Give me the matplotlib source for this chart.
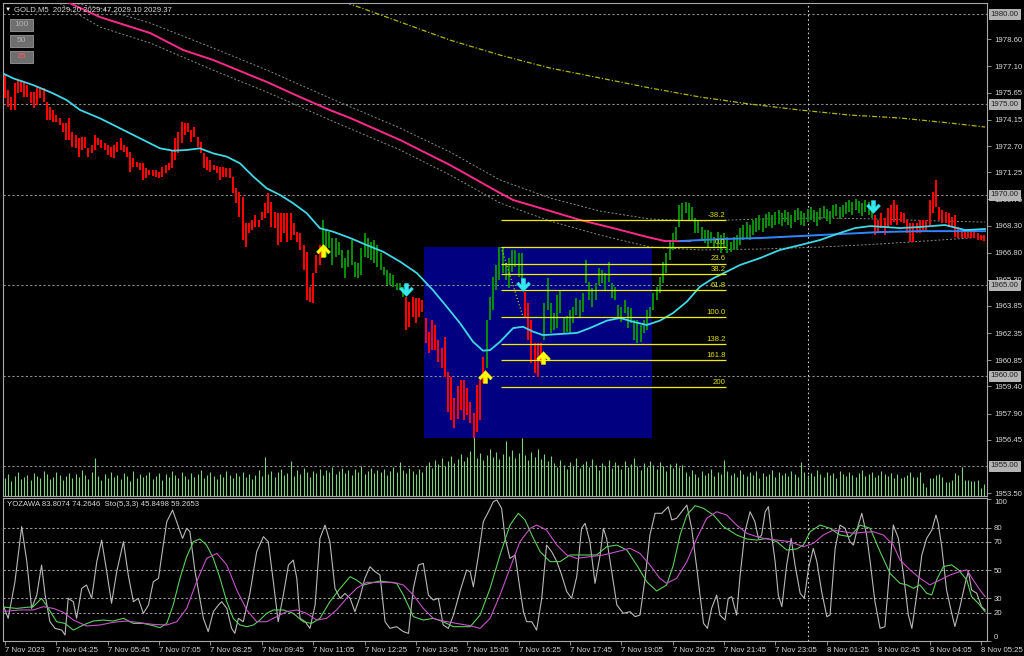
import matplotlib
matplotlib.use('Agg')
import matplotlib.pyplot as plt
from matplotlib.path import Path
from matplotlib.patches import Rectangle
from matplotlib.transforms import blended_transform_factory

plt.rcParams['font.family'] = ['Liberation Sans', 'DejaVu Sans']

# ---------------- data ----------------
# price bars as (high, low), grouped by the trend colour of the bar
DOWN_1 = [
    (1976.63, 1975.34), (1975.80, 1974.88), (1975.43, 1974.69), (1976.17, 1974.69), (1976.35, 1975.62),
    (1976.35, 1975.71), (1976.26, 1975.43), (1976.08, 1975.43), (1975.71, 1975.06), (1975.71, 1974.79),
    (1975.99, 1974.97), (1975.99, 1975.34), (1975.89, 1975.15), (1975.15, 1974.14), (1974.88, 1974.14),
    (1974.69, 1974.05), (1974.42, 1974.05), (1974.23, 1973.86), (1973.96, 1973.50), (1973.96, 1973.03),
    (1974.23, 1973.03), (1973.50, 1972.67), (1973.31, 1972.57), (1973.13, 1972.11), (1973.22, 1972.48),
    (1973.22, 1972.57), (1972.57, 1972.11), (1972.76, 1972.30), (1973.31, 1972.48), (1973.13, 1972.76),
    (1973.03, 1972.57), (1972.85, 1972.48), (1972.76, 1972.20), (1972.67, 1972.11), (1972.76, 1972.02),
    (1972.94, 1972.39), (1973.13, 1972.48), (1972.76, 1972.39), (1972.67, 1972.11), (1972.39, 1971.28),
    (1972.02, 1971.56), (1971.84, 1971.56), (1971.74, 1971.37), (1971.74, 1970.82), (1971.47, 1970.91),
    (1971.37, 1971.10), (1971.40, 1971.05), (1971.37, 1971.01), (1971.28, 1970.91), (1971.56, 1971.01),
    (1971.65, 1971.19), (1971.74, 1971.37), (1972.48, 1971.47), (1973.13, 1971.93), (1973.50, 1972.30),
    (1974.05, 1972.85), (1973.96, 1973.31), (1973.96, 1973.50), (1973.59, 1972.94), (1973.77, 1973.22),
    (1973.22, 1972.67), (1972.94, 1972.30), (1972.30, 1971.47), (1972.11, 1971.37), (1971.93, 1971.28),
    (1971.65, 1971.37), (1971.60, 1971.20), (1971.56, 1970.82), (1971.56, 1971.01), (1971.47, 1971.01),
    (1971.47, 1970.91), (1971.01, 1970.08), (1970.36, 1969.53), (1970.18, 1968.79), (1969.90, 1967.50),
    (1968.42, 1967.13), (1968.42, 1967.87), (1968.61, 1968.06), (1968.88, 1968.24), (1968.61, 1968.24),
    (1969.07, 1968.61), (1969.53, 1968.70), (1970.08, 1968.98), (1969.62, 1968.24), (1969.07, 1968.15),
    (1968.98, 1967.23), (1968.98, 1967.41), (1968.98, 1967.87), (1968.98, 1967.41), (1968.98, 1967.50),
    (1968.42, 1967.78), (1967.96, 1967.41), (1967.87, 1966.95), (1967.23, 1965.84), (1966.86, 1964.18),
    (1964.92, 1964.09), (1965.66, 1964.00), (1966.67, 1965.66), (1967.23, 1966.12),
]
UP_1 = [
    (1968.60, 1966.78), (1968.05, 1966.56), (1967.94, 1967.06), (1967.61, 1966.12), (1967.61, 1966.56),
    (1967.39, 1966.67), (1966.95, 1965.95), (1966.50, 1965.40), (1966.95, 1966.01), (1967.50, 1966.12),
    (1966.28, 1965.45), (1966.23, 1965.40), (1967.06, 1965.56), (1967.89, 1966.56), (1967.61, 1966.50),
    (1967.39, 1966.39), (1967.50, 1966.23), (1967.22, 1966.01), (1966.78, 1965.84), (1966.01, 1965.56),
    (1965.84, 1965.01), (1965.70, 1965.00), (1965.56, 1964.90), (1965.12, 1964.73), (1965.12, 1964.73),
    (1964.90, 1964.35),
]
DOWN_2 = [
    (1964.35, 1962.52), (1964.07, 1962.69), (1964.35, 1963.24), (1964.29, 1962.91), (1964.29, 1963.24),
    (1964.18, 1963.52), (1963.19, 1961.80), (1962.41, 1961.25), (1963.08, 1961.42), (1962.80, 1961.42),
    (1961.97, 1960.75), (1961.52, 1960.42), (1962.13, 1959.92), (1960.20, 1957.99), (1959.92, 1957.54),
    (1958.76, 1957.10), (1959.40, 1957.60), (1959.76, 1958.10), (1959.76, 1957.54), (1959.31, 1957.82),
    (1958.54, 1957.37), (1957.93, 1956.55), (1959.48, 1956.88), (1959.76, 1957.54), (1961.03, 1959.59),
]
UP_2 = [
    (1963.08, 1960.42), (1964.35, 1963.08), (1965.45, 1963.63), (1966.12, 1964.73), (1967.11, 1965.29),
    (1967.11, 1965.67), (1966.23, 1965.29), (1966.50, 1964.85), (1966.95, 1965.73), (1966.95, 1966.01),
    (1966.78, 1965.45), (1966.78, 1964.85),
]
DOWN_3 = [
    (1964.62, 1963.24), (1964.01, 1961.97), (1963.08, 1960.70), (1961.80, 1960.14), (1961.80, 1959.92),
    (1961.80, 1960.70),
]
UP_3 = [
    (1964.01, 1961.97), (1965.40, 1963.63), (1964.01, 1962.35), (1963.46, 1962.52), (1964.46, 1962.63),
    (1964.73, 1963.46), (1963.19, 1962.35), (1963.30, 1962.40), (1963.63, 1962.35), (1963.79, 1962.91),
    (1964.29, 1963.35), (1964.18, 1963.19), (1964.57, 1963.52), (1966.39, 1965.12), (1965.18, 1964.18),
    (1964.84, 1963.79), (1965.12, 1964.18), (1965.95, 1965.01), (1965.84, 1965.12), (1965.67, 1964.73),
    (1966.28, 1965.18), (1965.12, 1964.29), (1964.90, 1964.18), (1963.90, 1963.24), (1963.79, 1962.97),
    (1964.18, 1963.46), (1963.79, 1962.63), (1963.74, 1962.91), (1963.08, 1961.97), (1963.08, 1961.80),
    (1962.80, 1961.86), (1963.08, 1962.35), (1963.63, 1962.52), (1963.79, 1963.19), (1964.57, 1963.63),
    (1964.90, 1964.18), (1965.45, 1964.57), (1966.28, 1965.12), (1966.78, 1965.67), (1967.50, 1966.39),
    (1967.89, 1966.95), (1968.22, 1967.50), (1969.44, 1968.22), (1969.55, 1968.61), (1969.60, 1968.99),
    (1969.55, 1968.61), (1969.33, 1968.61), (1968.72, 1967.89), (1968.61, 1967.89), (1968.22, 1967.50),
    (1968.05, 1967.33), (1968.05, 1967.06), (1967.94, 1967.33), (1967.67, 1967.11), (1967.94, 1967.11),
    (1967.77, 1966.78), (1967.89, 1967.11), (1967.67, 1966.78), (1967.39, 1966.84), (1967.67, 1966.95),
    (1967.80, 1967.00),
    (1968.16, 1967.22), (1968.33, 1967.50), (1968.50, 1967.61), (1968.33, 1967.50), (1968.61, 1967.77),
    (1968.72, 1967.94), (1968.88, 1968.05), (1968.72, 1967.94), (1968.94, 1968.16), (1969.05, 1968.27),
    (1968.88, 1968.16), (1969.05, 1968.33), (1969.16, 1968.39), (1968.99, 1968.27), (1969.16, 1968.50),
    (1969.05, 1968.33), (1968.88, 1968.16), (1969.16, 1968.50), (1969.27, 1968.61), (1969.10, 1968.33),
    (1968.99, 1968.27), (1969.21, 1968.50), (1969.32, 1968.61), (1969.16, 1968.50), (1969.05, 1968.27),
    (1969.27, 1968.61), (1969.38, 1968.72), (1969.21, 1968.55), (1969.10, 1968.39), (1969.44, 1968.72),
    (1969.49, 1968.83), (1969.32, 1968.66), (1969.44, 1968.77), (1969.60, 1968.94), (1969.71, 1969.05),
    (1969.60, 1968.88), (1969.77, 1969.16), (1969.66, 1968.99), (1969.55, 1968.83), (1969.71, 1969.05),
    (1969.60, 1968.88), (1969.44, 1968.72),
]
DOWN_4 = [
    (1968.88, 1967.77), (1968.61, 1967.94), (1968.99, 1968.16), (1968.72, 1967.77), (1969.27, 1968.16),
    (1969.44, 1968.33), (1969.71, 1968.50), (1969.44, 1968.33),
    (1969.05, 1968.50), (1968.99, 1968.44), (1968.61, 1967.89), (1968.44, 1967.39), (1968.44, 1967.39),
    (1968.44, 1967.89), (1968.61, 1967.89), (1968.61, 1968.05), (1968.61, 1967.94), (1969.71, 1968.33),
    (1970.15, 1968.99), (1970.82, 1969.32), (1969.32, 1968.61), (1969.16, 1968.44), (1969.05, 1968.44),
    (1968.99, 1968.22), (1968.77, 1968.22), (1968.88, 1967.66), (1968.22, 1967.61), (1968.05, 1967.61),
    (1968.05, 1967.61), (1968.05, 1967.61), (1968.05, 1967.61), (1968.05, 1967.61), (1967.89, 1967.50),
    (1967.77, 1967.50), (1967.77, 1967.44),
]
SEGMENTS = [('down', DOWN_1), ('up', UP_1), ('down', DOWN_2), ('up', UP_2),
            ('down', DOWN_3), ('up', UP_3), ('down', DOWN_4)]

# tick volume per bar
VOLUME = [
    18, 22, 15, 20, 24, 17, 19, 21, 16, 23, 20, 18, 25, 22, 17, 19, 24, 21, 16, 20, 23, 18, 22, 19, 26, 21, 17, 24, 38,
    20, 16, 22, 18, 24, 19, 21, 17, 23, 20, 15, 25, 18, 22, 19, 21, 24, 17, 20, 23, 16, 22, 19, 25, 21, 18, 24, 20, 17,
    23, 19, 22, 26, 18, 21, 24, 20, 17, 22, 19, 25, 21, 18, 23, 20, 24, 19, 22, 17, 21, 26, 20,
    39, 22, 25, 19, 24, 27, 21, 23, 35, 20, 26, 22, 28, 24, 19, 25, 23, 27, 21, 26, 24, 29, 22, 25, 28, 23, 26, 21, 27,
    24, 30, 22, 25, 28, 23, 26, 24, 27, 21, 25, 29, 24, 34, 26, 23, 28, 25, 22, 27, 24,
    30, 34, 28, 36, 32, 38, 30, 35, 40, 33, 37, 42, 35, 39, 45, 60, 38, 43, 36, 41, 47, 39, 44, 37, 42, 55, 40, 46, 38,
    43, 58, 41, 36, 44, 39, 47, 37, 42, 35, 40,
    33, 29, 36, 31, 27, 34, 30, 38, 28, 32, 35, 29, 37, 31, 26, 33, 30, 36, 28, 34, 31, 27, 35, 29, 32, 38, 30, 26, 33,
    29, 35, 31, 27, 34, 30, 25, 32, 28, 33, 29, 31,
    24, 20, 26, 22, 19, 25, 21, 23, 27, 20, 24, 22, 36, 25, 21, 23, 19, 26, 22, 20, 24, 21, 25, 18, 23, 20, 22, 26, 19,
    24, 21, 23, 20, 25, 22, 19, 34, 24, 21, 23, 20, 26, 22, 19, 24, 21, 23, 18, 25, 22, 20, 24, 21, 19, 23, 26, 20, 22,
    24, 19, 21, 25, 22, 20, 23, 18, 22,
    18, 19, 21, 24, 19, 19, 24, 13, 9, 18, 18, 21, 22, 19, 14, 14, 16, 23, 21, 29, 16, 16, 15, 15, 16, 8, 12,
]

# moving averages as (bar, price)
FAST_MA = [(-0.7, 1976.72), (2.6, 1976.44), (8.8, 1976.07), (15.0, 1975.61), (19.2, 1975.24), (23.4, 1974.69),
           (29.6, 1974.23), (35.8, 1973.68), (42.1, 1973.12), (48.3, 1972.57), (52.4, 1972.44), (56.6, 1972.48),
           (60.7, 1972.57), (64.9, 1972.29), (69.1, 1972.11), (73.2, 1971.74), (77.4, 1971.00), (81.5, 1970.36),
           (85.7, 1969.99), (89.8, 1969.53), (94.0, 1968.98), (98.1, 1968.15), (102.2, 1967.96), (107.5, 1967.61),
           (112.7, 1967.22), (117.8, 1966.85), (123.1, 1966.30), (128.3, 1965.67), (133.3, 1964.73), (137.6, 1963.81),
           (141.7, 1962.91), (145.8, 1961.87), (148.9, 1961.38), (151.1, 1961.41), (154.2, 1961.87), (158.3, 1962.63),
           (161.4, 1962.70), (164.5, 1962.43), (167.6, 1962.24), (172.9, 1962.30), (178.2, 1962.36), (182.2, 1962.63),
           (187.5, 1963.04), (191.6, 1963.19), (195.6, 1962.98), (199.9, 1962.80), (204.0, 1963.04), (208.1, 1963.46),
           (212.4, 1964.09), (216.5, 1964.92), (220.6, 1965.38), (224.8, 1965.75), (229.0, 1966.12), (235.2, 1966.50),
           (241.4, 1966.95), (247.7, 1967.22), (253.9, 1967.50), (260.1, 1967.89), (264.8, 1968.16), (269.5, 1968.27),
           (274.1, 1968.22), (278.8, 1968.16), (285.0, 1968.22), (292.8, 1968.33), (299.1, 1968.05), (305.3, 1968.11)]
SLOW_MA = [(14.0, 1981.05), (18.1, 1980.77), (29.6, 1979.83), (45.2, 1978.95), (55.5, 1978.01), (64.8, 1977.46),
           (81.6, 1976.24), (91.9, 1975.41), (101.2, 1974.69), (107.5, 1974.25), (123.1, 1973.03), (138.6, 1971.65),
           (154.2, 1970.10), (158.3, 1969.71), (168.8, 1969.16), (179.1, 1968.61), (189.4, 1968.16), (200.0, 1967.67),
           (205.6, 1967.44), (213.4, 1967.44)]
SLOW_MA_UP = [(210.3, 1967.44), (222.7, 1967.55), (235.2, 1967.61), (247.7, 1967.72), (260.1, 1967.83),
              (272.6, 1967.94), (285.0, 1967.99), (297.5, 1967.99), (305.3, 1967.99)]
ENV_UPPER = [(10.9, 1980.94), (29.6, 1980.33), (45.2, 1979.50), (64.8, 1978.12), (81.6, 1976.90), (101.2, 1975.35),
             (123.1, 1973.69), (138.6, 1972.37), (154.2, 1970.82), (169.8, 1969.82), (185.4, 1969.10), (200.9, 1968.66),
             (216.5, 1968.55), (235.2, 1968.66), (253.9, 1968.72), (272.6, 1968.66), (291.3, 1968.55), (305.3, 1968.49)]
ENV_LOWER = [(15.0, 1980.80), (29.6, 1979.28), (45.2, 1978.40), (64.8, 1976.90), (81.6, 1975.68), (101.2, 1974.14),
             (123.1, 1972.48), (138.6, 1971.10), (154.2, 1969.55), (169.8, 1968.55), (185.4, 1967.77), (200.9, 1967.11),
             (216.5, 1966.95), (235.2, 1967.00), (253.9, 1967.11), (272.6, 1967.28), (291.3, 1967.50), (305.3, 1967.67)]
LONG_MA = [(101.2, 1980.99), (105.9, 1980.66), (123.1, 1979.56), (138.6, 1978.56), (154.2, 1977.73), (169.8, 1977.01),
           (185.4, 1976.46), (200.9, 1975.91), (216.5, 1975.41), (232.1, 1975.02), (247.7, 1974.69), (263.2, 1974.41),
           (278.8, 1974.25), (294.4, 1973.97), (305.3, 1973.75)]

# signal arrows (bar, price)
BUY_SIGNALS = [(99.0, 1966.95), (149.5, 1960.00), (167.6, 1961.02)]
SELL_SIGNALS = [(125.0, 1964.73), (161.4, 1965.00), (270.4, 1969.32)]

# box and fibonacci retracement
BOX_BARS = (130.5, 201.6)
BOX_PRICES = (1956.55, 1967.11)
FIB_BARS = (154.5, 224.5)
FIB_ANCHORS = (1967.11, 1963.24)
FIB_LEVELS = [-38.2, 0.0, 23.6, 38.2, 61.8, 100.0, 138.2, 161.8, 200.0]
FIB_TEXT = ['-38.2', '0.0', '23.6', '38.2', '61.8', '100.0', '138.2', '161.8', '200']

# oscillator window (bar, value)
YOZAWA = [(-1.0, 27.7), (1.0, 16), (3.1, 41.8), (5.2, 80.7), (6.8, 56), (8.3, 23), (9.9, 32.4), (11.4, 53.6),
          (12.5, 32.4), (14.0, 13.6), (15.6, 8.9), (17.7, 7.7), (18.7, 4.2), (19.7, 30.1), (21.3, 27.7), (22.3, 16),
          (23.9, 37.1), (25.4, 39.5), (27.0, 30.1), (28.6, 56), (30.1, 71.2), (31.7, 48.9), (33.2, 26.6), (34.8, 48.9),
          (36.9, 70.1), (38.4, 46.6), (40.0, 27.7), (41.5, 30.1), (43.1, 19.5), (44.7, 25.4), (46.2, 41.8),
          (47.8, 44.2), (49.3, 67.7), (50.4, 84.2), (52.2, 92.4), (54.0, 80.7), (55.3, 72.4), (56.6, 79.5),
          (57.6, 77.1), (59.2, 48.9), (60.7, 30.1), (61.8, 16), (63.3, 6.6), (64.9, 20.7), (66.5, 25.4), (67.5, 27.7),
          (69.1, 23), (70.6, 8.9), (71.6, 5.4), (72.7, 16), (74.2, 13.6), (76.3, 33.6), (78.4, 63), (80.5, 73.6),
          (82.0, 70.1), (83.6, 41.8), (85.1, 13.6), (86.7, 32.4), (88.3, 53.6), (89.8, 57.1), (90.9, 44.2), (91.9, 16),
          (93.5, 13.6), (95.0, 8.9), (96.6, 25.4), (98.1, 72.4), (99.7, 81.8), (101.2, 70.1), (102.8, 37.1),
          (104.4, 30.1), (105.9, 33.6), (107.5, 30.1), (109.0, 20.7), (110.6, 31.3), (112.1, 44.2), (113.7, 52.4),
          (115.3, 48.9), (116.8, 46.6), (118.4, 13.6), (119.9, 8.9), (122.0, 10.1), (124.1, 6.6), (125.7, 5.4),
          (127.2, 37.1), (128.8, 53.6), (130.3, 54.8), (131.9, 32.4), (133.4, 28.9), (135.0, 30.1), (136.5, 11.3),
          (138.1, 8.9), (139.7, 18.3), (141.7, 34.8), (143.8, 50.1), (144.9, 48.9), (145.9, 38.3), (147.5, 60.7),
          (149.0, 84.2), (150.6, 91.2), (152.1, 98.3), (153.2, 99.5), (154.7, 93.6), (155.8, 72.4), (157.3, 58.3),
          (158.9, 60.7), (160.4, 37.1), (161.5, 20.7), (162.5, 13.6), (164.1, 13.6), (165.6, 7.7), (167.2, 30.1),
          (168.7, 67.7), (170.3, 63), (171.9, 56), (173.4, 46.6), (175.0, 34.8), (176.5, 30.1), (178.1, 45.4),
          (179.6, 79.5), (180.7, 83), (182.2, 70.1), (183.8, 40.7), (185.4, 60.7), (186.4, 79.5), (187.4, 72.4),
          (189.0, 48.9), (190.6, 25.4), (192.6, 19.5), (194.7, 20.7), (196.3, 17.2), (197.8, 18.3), (199.4, 44.2),
          (200.9, 74.8), (202.5, 90.1), (204.6, 90.1), (206.6, 94.8), (207.7, 85.4), (209.2, 86.6), (210.8, 91.2),
          (212.4, 95.9), (213.9, 79.5), (215.5, 51.3), (216.5, 32.4), (217.6, 12.5), (218.8, 8.9), (220.1, 23),
          (221.7, 32.4), (222.7, 18.3), (224.3, 14.8), (225.3, 30.1), (226.4, 31.3), (227.9, 18.3), (229.0, 46.6),
          (230.5, 77.1), (232.1, 91.2), (233.6, 84.2), (234.7, 72.4), (235.7, 74.8), (236.8, 91.2), (237.8, 94.8),
          (238.8, 74.8), (239.9, 56), (240.9, 32.4), (242.0, 24.2), (243.5, 53.6), (244.9, 72.4), (246.1, 53.6),
          (247.7, 33.6), (249.0, 30.1), (250.3, 51.3), (251.8, 65.4), (252.9, 56), (254.4, 34.8), (256.0, 17.2),
          (257.0, 18.3), (258.6, 65.4), (260.1, 81.8), (261.7, 79.5), (263.2, 70.1), (264.3, 67.7), (265.8, 81.8),
          (266.9, 90.1), (268.4, 74.8), (269.5, 56), (271.0, 27.7), (272.6, 8.9), (274.1, 10.1), (275.7, 53.6),
          (276.7, 81.8), (278.3, 72.4), (279.9, 46.6), (281.4, 18.3), (282.5, 8.9), (284.0, 32.4), (285.6, 60.7),
          (287.1, 72.4), (288.7, 78.2), (290.0, 88.9), (290.7, 83), (291.8, 66.6), (293.3, 36), (294.9, 19.6),
          (295.9, 10.2), (297.5, 24.3), (299.1, 40.7), (300.1, 49), (301.1, 36), (302.7, 33.7), (304.2, 24.3),
          (305.3, 21.9)]
STOCH_MAIN = [(-1.6, 24.2), (3.6, 23), (8.8, 24.2), (11.4, 30.1), (13.5, 23), (16.1, 13.6), (18.7, 12.4), (21.3, 7.7),
              (24.4, 11.3), (27.5, 14.1), (30.6, 14.8), (33.7, 14.1), (36.9, 16), (40.0, 12.4), (43.1, 12.4),
              (46.2, 10.8), (48.3, 9.4), (50.4, 12.4), (52.4, 25.4), (54.5, 44.2), (56.6, 59.5), (58.7, 70.1),
              (60.7, 72), (62.8, 67.7), (64.9, 58.3), (67.0, 44.2), (69.1, 27.7), (71.1, 16), (73.2, 11.3),
              (75.3, 10.1), (77.4, 11.3), (79.4, 14.8), (81.5, 19.5), (83.6, 21.9), (86.7, 21.9), (89.8, 19.5),
              (92.9, 13.6), (95.5, 12.4), (98.1, 16), (101.2, 27.7), (104.4, 37.1), (107.5, 45.4), (109.5, 43),
              (111.6, 39.5), (113.7, 40.7), (116.8, 42.3), (119.9, 41.4), (122.0, 40.7), (124.1, 32.4), (127.2, 17.2),
              (130.3, 14.8), (133.4, 16), (136.5, 13.6), (139.7, 10.1), (143.8, 10.1), (144.9, 10.1), (148.0, 18.3),
              (151.1, 37.1), (154.2, 60.7), (157.3, 81.8), (159.9, 90.1), (162.0, 85.4), (164.1, 74.8), (166.7, 63),
              (169.8, 56), (172.9, 56), (176.0, 60.7), (180.2, 60.7), (184.3, 60.7), (187.4, 66.5), (190.6, 67.7),
              (193.7, 64.2), (196.8, 53.6), (199.9, 41.8), (203.0, 35.3), (206.1, 39.5), (208.2, 53.6), (210.3, 74.8),
              (212.4, 88.9), (215.0, 95.5), (217.6, 93.6), (220.7, 88.9), (223.8, 80.7), (227.9, 74.8), (231.1, 72),
              (234.2, 71.2), (237.3, 72.4), (240.4, 70.1), (243.5, 64.2), (246.6, 64.9), (248.7, 67.7), (250.8, 77.1),
              (253.9, 81.8), (257.0, 79.5), (260.1, 74.8), (263.2, 73.6), (266.4, 81.8), (269.5, 79.5), (272.6, 63),
              (275.7, 47.7), (278.8, 40.7), (280.9, 39.6), (283.0, 37.2), (285.0, 39.6), (287.1, 33.7), (288.7, 32.5),
              (290.2, 43.1), (292.3, 52.5), (294.9, 53.7), (297.0, 50.2), (299.6, 43.1), (301.1, 31.3), (303.2, 26.6),
              (305.3, 20.7)]
STOCH_SIGNAL = [(-1.6, 20.7), (4.7, 21.9), (8.8, 21.9), (11.9, 24.2), (15.1, 23), (18.2, 20.2), (21.3, 14.8),
                (25.4, 10.6), (29.6, 11.3), (33.7, 13.2), (37.9, 14.1), (42.1, 12.9), (46.2, 11.7), (50.4, 11.3),
                (53.5, 13.6), (56.6, 23), (59.7, 41.8), (62.8, 58.3), (66.0, 61.8), (69.1, 53.6), (72.2, 36),
                (75.3, 21.9), (78.4, 13.6), (81.5, 13.6), (84.6, 17.2), (87.7, 20.7), (90.9, 21.9), (94.0, 19.5),
                (97.1, 14.8), (100.2, 16), (103.3, 21.9), (106.4, 30.1), (109.5, 37.1), (112.7, 41.4), (116.8, 41.4),
                (121.0, 41.4), (124.1, 39.5), (127.2, 32.4), (130.3, 23), (133.4, 16), (136.5, 14.1), (140.7, 12.4),
                (144.9, 10.8), (148.0, 8.9), (151.1, 16), (154.2, 32.4), (157.3, 51.3), (160.4, 70.1), (163.6, 79.5),
                (165.6, 81.8), (168.7, 78.3), (171.9, 67.7), (175.0, 60.7), (178.1, 58.3), (182.2, 59.5), (186.4, 60.7),
                (190.6, 63), (194.7, 65.4), (197.8, 61.8), (200.9, 53.6), (204.0, 44.2), (206.1, 40.7), (209.2, 44.2),
                (212.4, 56), (215.5, 72.4), (218.6, 86.6), (221.7, 91.2), (224.8, 88.9), (227.9, 81.8), (231.1, 76),
                (234.2, 73.6), (237.3, 72), (240.4, 71.2), (244.5, 70.1), (248.7, 66.5), (251.8, 68.9), (254.9, 74.8),
                (258.0, 78.3), (261.2, 77.1), (264.3, 76), (267.4, 76.7), (270.5, 77.1), (273.6, 74.8), (276.7, 67.7),
                (278.8, 57.2), (281.9, 50.2), (285.0, 44.3), (288.1, 39.6), (291.3, 43.1), (294.4, 46.6), (297.5, 49),
                (299.6, 50.2), (301.6, 43.1), (303.7, 36), (305.3, 31.3)]

PRICE_TICKS = [1978.60, 1977.10, 1975.65, 1974.15, 1972.70, 1971.25, 1969.75, 1968.30, 1966.80, 1965.30,
               1963.85, 1962.35, 1960.85, 1959.40, 1957.90, 1956.45, 1953.50]
ROUND_LEVELS = [1980.0, 1975.0, 1970.0, 1965.0, 1960.0, 1955.0]
OSC_TICKS = [100, 80, 70, 50, 30, 20, 0]
OSC_LEVELS = [80, 70, 50, 30, 20]
TIME_TICKS = list(range(0, 305, 16))
TIME_LABELS = ['7 Nov 2023', '7 Nov 04:25', '7 Nov 05:45', '7 Nov 07:05', '7 Nov 08:25', '7 Nov 09:45',
               '7 Nov 11:05', '7 Nov 12:25', '7 Nov 13:45', '7 Nov 15:05', '7 Nov 16:25', '7 Nov 17:45',
               '7 Nov 19:05', '7 Nov 20:25', '7 Nov 21:45', '7 Nov 23:05', '8 Nov 01:25', '8 Nov 02:45',
               '8 Nov 04:05', '8 Nov 05:25']
DAY_BREAK = 250.2
HEADER = 'GOLD,M5  2029.20 2029.47 2029.10 2029.37'
OSC_HEADER = 'YOZAWA 83.8074 74.2646  Sto(5,3,3) 45.8498 59.2653'

# ---------------- drawing ----------------
W, H = 1024, 656
FRAME = '#a8a8a8'
TXT = '#d8d8d8'
FS = 5.6


def rect(x0, y0, x1, y1):
    return [x0 / W, 1 - y1 / H, (x1 - x0) / W, (y1 - y0) / H]


def xy(pairs):
    return [p[0] for p in pairs], [p[1] for p in pairs]


fig = plt.figure(figsize=(W / 100, H / 100), dpi=100, facecolor='black')
ax = fig.add_axes(rect(3, 3, 987, 496))
axo = fig.add_axes(rect(3, 498, 987, 641), sharex=ax)

for a in (ax, axo):
    a.set_facecolor('black')
    for sp in a.spines.values():
        sp.set_color(FRAME)
        sp.set_linewidth(0.8)
    a.yaxis.tick_right()
    a.tick_params(axis='y', length=3, width=0.6, color=FRAME, labelcolor=TXT, labelsize=FS, pad=2)

ax.set_xlim(-0.62, 305.9)
ax.set_ylim(1953.34, 1980.61)
axo.set_ylim(0, 100.9)

# main window
ax.add_patch(Rectangle((BOX_BARS[0], BOX_PRICES[0]), BOX_BARS[1] - BOX_BARS[0],
                       BOX_PRICES[1] - BOX_PRICES[0], facecolor='#000080', edgecolor='none', zorder=1))
for p in ROUND_LEVELS:
    ax.axhline(p, color='#8c8c8c', lw=0.8, ls=(0, (2, 2)), zorder=2)
ax.axvline(DAY_BREAK, color='#d0d0d0', lw=0.8, ls=(0, (1.5, 2.5)), zorder=2)

# volume at the bottom of the price window (1 tick = 1 px of the 493 px window)
bar_x = list(range(len(VOLUME)))
ax.vlines(bar_x, 0, [v / 493 for v in VOLUME], transform=ax.get_xaxis_transform(),
          color='#7fd07f', lw=0.8, zorder=2)

# envelope, slow and long averages
ax.plot(*xy(ENV_UPPER), color='#8a8a8a', lw=0.7, ls=(0, (2, 2)), zorder=2)
ax.plot(*xy(ENV_LOWER), color='#8a8a8a', lw=0.7, ls=(0, (2, 2)), zorder=2)
ax.plot(*xy(LONG_MA), color='#b4b400', lw=0.9, ls=(0, (4, 1.5, 1, 1.5)), zorder=2)

# price bars
i = 0
for trend, seg in SEGMENTS:
    col = '#ff0000' if trend == 'down' else '#0a8a0a'
    xs = list(range(i, i + len(seg)))
    ax.vlines(xs, [s[1] for s in seg], [s[0] for s in seg], color=col, lw=1.5, zorder=3)
    i += len(seg)

ax.plot(*xy(SLOW_MA), color='#ff2a8c', lw=1.4, zorder=4)
ax.plot(*xy(SLOW_MA_UP), color='#2f86ff', lw=1.4, zorder=4)
ax.plot(*xy(FAST_MA), color='#3fd8e6', lw=1.3, zorder=4)

# fibonacci retracement
p0, p1 = FIB_ANCHORS
for lvl, lab in zip(FIB_LEVELS, FIB_TEXT):
    price = p0 - lvl / 100.0 * (p0 - p1)
    ax.hlines(price, FIB_BARS[0], FIB_BARS[1], color='#f0f000', lw=0.9, zorder=5)
    ax.text(FIB_BARS[1], price + 0.06, lab, color='#e0e000', fontsize=FS, ha='right', va='bottom', zorder=6)
ax.plot([FIB_BARS[0], 161.4], [p0, p1], color='#e0e000', lw=0.8, ls=(0, (1, 2)), zorder=5)

# arrows (thick chevron with a stem)
up_arrow = Path([(-0.3, -1.0), (0.3, -1.0), (0.3, -0.05), (0.72, -0.5), (1.0, -0.2), (0.0, 0.85),
                 (-1.0, -0.2), (-0.72, -0.5), (-0.3, -0.05), (-0.3, -1.0)])
down_arrow = Path([(x, -y) for x, y in up_arrow.vertices])
ax.plot(*xy(BUY_SIGNALS), ls='none', marker=up_arrow, ms=10, color='#ffff00', mec='#ffff00', mew=0.3, zorder=7)
ax.plot(*xy(SELL_SIGNALS), ls='none', marker=down_arrow, ms=10, color='#35e8f0', mec='#35e8f0', mew=0.3, zorder=7)

# price axis
ax.set_yticks(PRICE_TICKS)
ax.set_yticklabels([f'{p:.2f}' for p in PRICE_TICKS])
ax.tick_params(axis='x', bottom=False, labelbottom=False)
trans = blended_transform_factory(ax.transAxes, ax.transData)
for p in ROUND_LEVELS:
    ax.text(1.0035, p, f'{p:.2f}', transform=trans, ha='left', va='center', fontsize=FS, color='#202020',
            bbox=dict(boxstyle='square,pad=0.2', fc='#b4b4b4', ec='#dcdcdc', lw=0.5), clip_on=False, zorder=8)

# oscillator window
for v in OSC_LEVELS:
    axo.axhline(v, color='#9a9a9a', lw=0.8, ls=(0, (2, 2)), zorder=1)
axo.axvline(DAY_BREAK, color='#d0d0d0', lw=0.8, ls=(0, (1.5, 2.5)), zorder=1)
axo.plot(*xy(YOZAWA), color='#b8b8b8', lw=0.8, zorder=3)
axo.plot(*xy(STOCH_MAIN), color='#5ccf5c', lw=0.8, zorder=4)
axo.plot(*xy(STOCH_SIGNAL), color='#c653c6', lw=0.8, zorder=4)
axo.set_yticks(OSC_TICKS)
axo.set_yticklabels([str(v) for v in OSC_TICKS])
ticks = axo.yaxis.get_major_ticks()
ticks[0].label2.set_va('top')
ticks[-1].label2.set_va('bottom')

axo.set_xticks(TIME_TICKS)
axo.set_xticklabels(TIME_LABELS, ha='left')
axo.tick_params(axis='x', length=3, width=0.6, color=FRAME, labelcolor=TXT, labelsize=FS, pad=1)

# header texts and scale buttons
fig.text(5 / W, 1 - 9.5 / H, '\u25bc', color='white', fontsize=4.5, va='center', ha='left')
fig.text(14 / W, 1 - 9.5 / H, HEADER, color=TXT, fontsize=FS, va='center', ha='left')
fig.text(7 / W, 1 - 505 / H, OSC_HEADER, color=TXT, fontsize=FS, va='center', ha='left')
for k, (lab, tc) in enumerate([('100', '#b4b4b4'), ('50', '#b4b4b4'), ('25', '#ff5a5a')]):
    y0 = 19 + k * 16
    fig.add_artist(Rectangle((10 / W, 1 - (y0 + 12) / H), 23 / W, 12 / H, transform=fig.transFigure,
                             facecolor='#6e6e6e', edgecolor='#9a9a9a', lw=0.6))
    fig.text(21.5 / W, 1 - (y0 + 6) / H, lab, color=tc, fontsize=FS + 0.5, ha='center', va='center')

fig.savefig('out.png', dpi=100, facecolor='black')
